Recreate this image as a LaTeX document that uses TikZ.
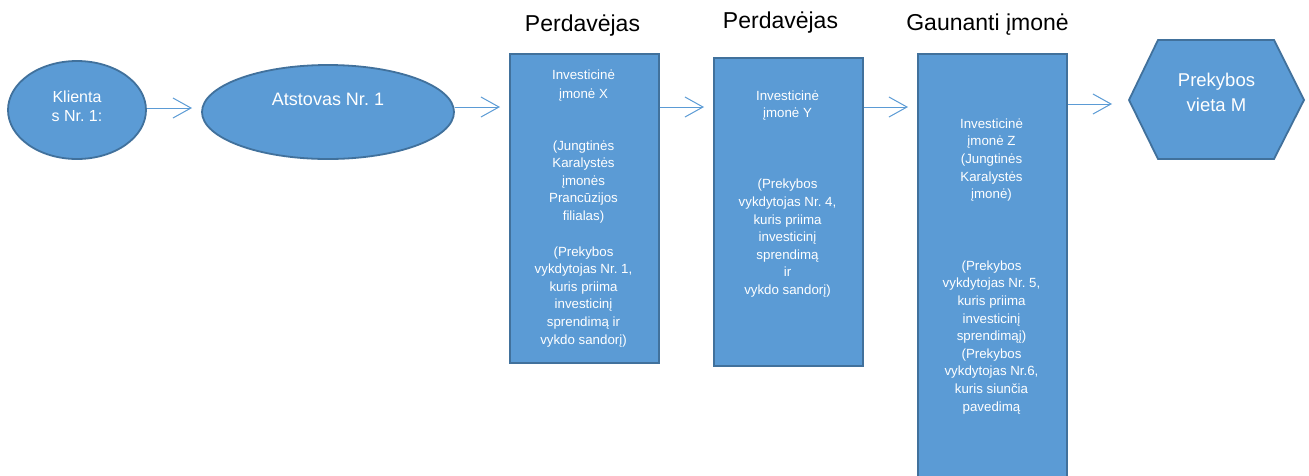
\documentclass[tikz,border=0pt]{standalone}
\usepackage{fontspec}
\setmainfont{Liberation Sans}
\usetikzlibrary{arrows.meta,shapes.geometric}
\definecolor{fillb}{HTML}{5B9BD5}
\definecolor{edgeb}{HTML}{41719C}
\begin{document}
\begin{tikzpicture}[x=1pt,y=-1pt,
  shp/.style={draw=edgeb, fill=fillb, line width=1.8pt},
  ell/.style={shp, ellipse, inner sep=0},
  boxs/.style={shp, rectangle, inner sep=0, anchor=north west},
  wt/.style={text=white, align=center, inner sep=0},
  boxtxt/.style={wt, anchor=north, font=\fontsize{13.3}{17.6}\selectfont},
  ttl/.style={anchor=base, inner sep=0, font=\fontsize{23}{27}\selectfont},
  arr/.style={draw=fillb, line width=1pt, -{Straight Barb[length=18pt,width=20pt]}}]
\clip (0,0) rectangle (1309,475);
\fill[white] (0,0) rectangle (1309,475);

% titles
\node[ttl] (t1) at (582.5,31.7) {Perdavėjas};
\node[ttl] (t2) at (780.5,28.3) {Perdavėjas};
\node[ttl] (t3) at (987.5,30) {Gaunanti įmonė};

% shapes
\node[ell, minimum width=138pt, minimum height=98pt] (kl) at (77,110) {};
\node[ell, minimum width=252pt, minimum height=94pt] (at) at (328,112) {};
\node[boxs, minimum width=149pt, minimum height=309pt] (bx) at (509,53) {};
\node[boxs, minimum width=149pt, minimum height=308pt] (by) at (713,57) {};
\node[boxs, minimum width=149pt, minimum height=450pt] (bz) at (917,53) {};
\draw[shp] (1129,100) -- (1158,40) -- (1274,40) -- (1304,100) -- (1274,159) -- (1158,159) -- cycle;
\coordinate (hexw) at (1129,100);

% texts
\node[wt, anchor=north, font=\fontsize{16}{19.5}\selectfont] (klt) at (77,90.3) {Klienta\\s Nr.~1:};
\node[wt, anchor=base, font=\fontsize{18}{21}\selectfont] (att) at (328,105.3) {Atstovas Nr.~1};
\node[wt, anchor=north, font=\fontsize{18.5}{25}\selectfont] (hext) at (1216.5,72.4) {Prekybos\\vieta M};

\node[boxtxt] (bxt) at (583.5,69.3) {Investicinė\\[1.4pt]
įmonė X\\[34.4pt]
(Jungtinės\\ Karalystės\\ įmonės\\ Prancūzijos\\ filialas)\\[18pt]
(Prekybos\\ vykdytojas Nr.~1,\\ kuris priima\\ investicinį\\ sprendimą ir\\ vykdo sandorį)};

\node[boxtxt] (byt) at (787.5,90.4) {Investicinė\\ įmonė Y\\[53.4pt]
(Prekybos\\ vykdytojas Nr.~4,\\ kuris priima\\ investicinį\\ sprendimą\\ ir\\ vykdo sandorį)};

\node[boxtxt] (bzt) at (991.5,118.4) {Investicinė\\ įmonė Z\\ (Jungtinės\\ Karalystės\\ įmonė)\\[54pt]
(Prekybos\\ vykdytojas Nr.~5,\\ kuris priima\\ investicinį\\ sprendimąį)\\ (Prekybos\\ vykdytojas Nr.6,\\ kuris siunčia\\ pavedimą};

% connectors
\coordinate (e1) at (192,108);
\coordinate (e2) at (500,107);
\coordinate (e3) at (704,107);
\coordinate (e4) at (908,107);
\coordinate (e5) at (1112,104);
\draw[arr] (kl.east |- e1) -- (e1);
\draw[arr] (at.east |- e2) -- (e2);
\draw[arr] (bx.east |- e3) -- (e3);
\draw[arr] (by.east |- e4) -- (e4);
\draw[arr] (bz.east |- e5) -- (e5);
\end{tikzpicture}
\end{document}
